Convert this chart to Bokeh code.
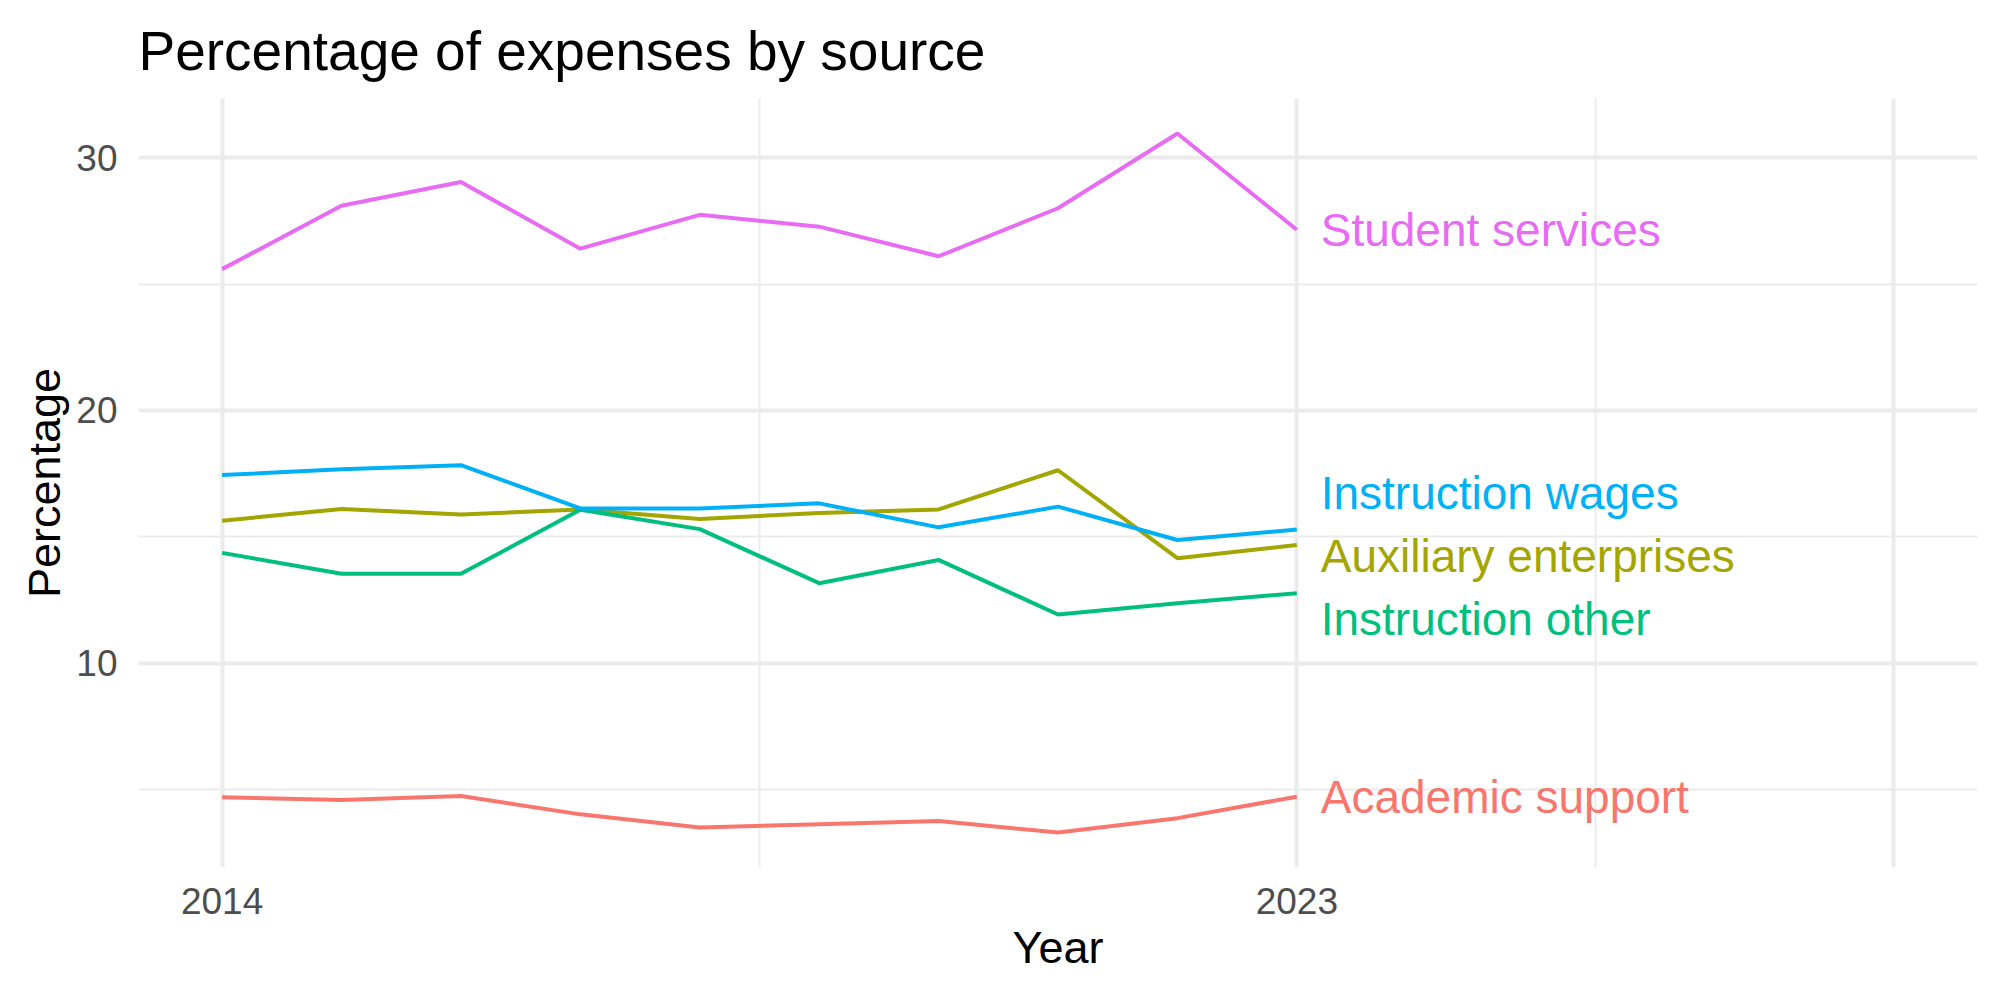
from bokeh.plotting import figure
from bokeh.models import Range1d, FixedTicker, ColumnDataSource
from bokeh.core.properties import value
from bokeh.embed import file_html
from bokeh.resources import INLINE

years = [2014, 2015, 2016, 2017, 2018, 2019, 2020, 2021, 2022, 2023]
series_names = ["Academic support", "Auxiliary enterprises", "Instruction other",
                "Instruction wages", "Student services"]
academic_support = [4.69, 4.58, 4.74, 4.01, 3.49, 3.62, 3.75, 3.29, 3.86, 4.71]
auxiliary_enterprises = [15.63, 16.10, 15.88, 16.08, 15.70, 15.94, 16.08, 17.63, 14.15, 14.67]
instruction_other = [14.36, 13.53, 13.53, 16.07, 15.30, 13.16, 14.08, 11.92, 12.37, 12.76]
instruction_wages = [17.44, 17.67, 17.83, 16.12, 16.12, 16.32, 15.37, 16.19, 14.87, 15.28]
student_services = [25.59, 28.10, 29.04, 26.40, 27.74, 27.27, 26.10, 28.00, 30.96, 27.15]
series_values = [academic_support, auxiliary_enterprises, instruction_other,
                 instruction_wages, student_services]
colors = ["#F8766D", "#A3A500", "#00BF7D", "#00B0F6", "#E76BF3"]

x_limit_max = 2028
x_breaks = [2014, 2023, 2028]
x_break_labels = ["2014", "2023", ""]
x_minor = [2018.5, 2025.5]
y_breaks = [10, 20, 30]
y_break_labels = ["10", "20", "30"]
y_minor = [5, 15, 25, 35]

FONT = "Liberation Sans"

# ggplot-like 5% expansion
xmin, xmax = min(years), x_limit_max
allv = [v for s in series_values for v in s]
ymin, ymax = min(allv), max(allv)
xpad = (xmax - xmin) * 0.05
ypad = (ymax - ymin) * 0.05

p = figure(width=2000, height=1000, output_backend="svg", toolbar_location=None,
           x_range=Range1d(xmin - xpad, xmax + xpad),
           y_range=Range1d(ymin - ypad, ymax + ypad),
           min_border_left=138, min_border_right=23, min_border_top=98, min_border_bottom=133,
           title="Percentage of expenses by source")
p.outline_line_color = None
p.background_fill_color = "white"
p.border_fill_color = "white"

p.title.text_font = FONT
p.title.text_font_size = "55px"
p.title.text_font_style = "normal"
p.title.text_color = "black"
p.title.align = "left"
p.title.standoff = 33

p.xaxis.ticker = FixedTicker(ticks=x_breaks, minor_ticks=x_minor)
p.yaxis.ticker = FixedTicker(ticks=y_breaks, minor_ticks=y_minor)
p.xaxis.major_label_overrides = {b: l for b, l in zip(x_breaks, x_break_labels)}
p.yaxis.major_label_overrides = {b: l for b, l in zip(y_breaks, y_break_labels)}

for ax in (p.xaxis[0], p.yaxis[0]):
    ax.axis_line_color = None
    ax.major_tick_line_color = None
    ax.minor_tick_line_color = None
    ax.major_label_text_font = FONT
    ax.major_label_text_font_size = "37px"
    ax.major_label_text_color = "#4D4D4D"
    ax.axis_label_text_font = FONT
    ax.axis_label_text_font_size = "45px"
    ax.axis_label_text_font_style = "normal"
    ax.axis_label_text_color = "black"

p.xaxis.axis_label = "Year"
p.yaxis.axis_label = "Percentage"
p.xaxis.major_label_standoff = 14
p.yaxis.major_label_standoff = 15
p.xaxis.axis_label_standoff = 5
p.yaxis.axis_label_standoff = 3

for g in (p.xgrid[0], p.ygrid[0]):
    g.grid_line_color = "#EBEBEB"
    g.grid_line_width = 4
    g.minor_grid_line_color = "#EBEBEB"
    g.minor_grid_line_width = 2

for name, vals, col in zip(series_names, series_values, colors):
    p.line(years, vals, line_color=col, line_width=4)

# simple repel of end labels (min vertical spacing in data units)
min_gap = 2.5
ends = [s[-1] for s in series_values]
order = sorted(range(len(ends)), key=lambda i: ends[i])
clusters = [[i] for i in order]
def place(cl):
    base = sum(ends[i] - k * min_gap for k, i in enumerate(cl)) / len(cl)
    return [base + k * min_gap for k in range(len(cl))]
changed = True
while changed:
    changed = False
    for c in range(len(clusters) - 1):
        a = place(clusters[c]); b = place(clusters[c + 1])
        if b[0] - a[-1] < min_gap:
            clusters[c] = clusters[c] + clusters[c + 1]
            del clusters[c + 1]
            changed = True
            break
label_y = [0] * len(ends)
for cl in clusters:
    for i, yv in zip(cl, place(cl)):
        label_y[i] = yv

label_src = ColumnDataSource(dict(x=[years[-1] + 0.2] * len(series_names), y=label_y,
                                  text=series_names, color=colors))
p.text(x="x", y="y", text="text", text_color="color", source=label_src,
       text_font=value(FONT), text_font_size="46px", text_align="left",
       text_baseline="middle")

open("out.html", "w").write(file_html(p, INLINE))
